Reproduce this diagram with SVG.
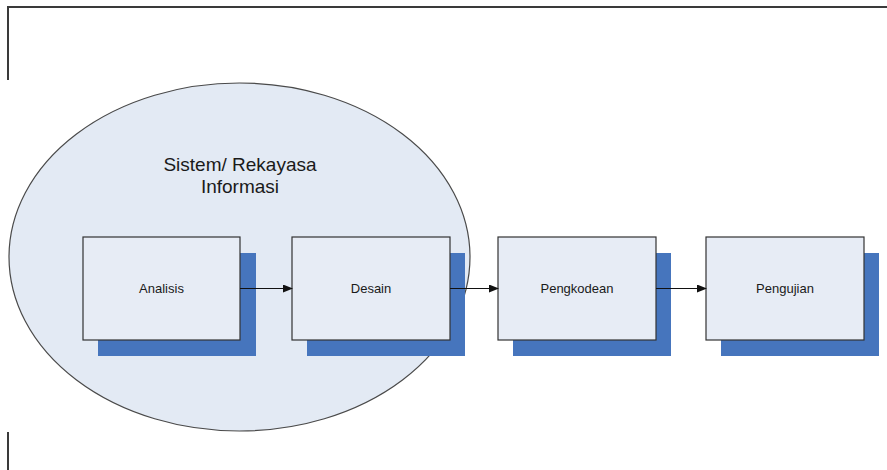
<svg xmlns="http://www.w3.org/2000/svg" width="887" height="470" viewBox="0 0 887 470">
  <defs>
    <marker id="arrow" markerWidth="10" markerHeight="8" refX="9" refY="4" orient="auto" markerUnits="userSpaceOnUse">
      <path d="M0,0 L10,4 L0,8 Z" fill="#111"/>
    </marker>
    <style>
      .frame { stroke: #3a3a3a; stroke-width: 2; fill: none; }
      .shadow { fill: #4675bd; }
      .box { fill: #e7ecf5; stroke: #333; stroke-width: 1.2; }
      .label { font-family: "Liberation Sans", Arial, sans-serif; font-size: 13px; fill: #1a1a1a; text-anchor: middle; }
      .title { font-family: "Liberation Sans", Arial, sans-serif; font-size: 19px; fill: #1a1a1a; text-anchor: middle; }
      .conn { stroke: #111; stroke-width: 1.2; fill: none; }
    </style>
  </defs>
  <rect width="887" height="470" fill="#ffffff"/>
  <g id="frame">
    <line class="frame" x1="7" y1="7" x2="887" y2="7"/>
    <line class="frame" x1="8" y1="6" x2="8" y2="80"/>
    <line class="frame" x1="8" y1="432" x2="8" y2="470"/>
  </g>
  <g id="sistem">
    <ellipse cx="239.5" cy="257" rx="230.5" ry="174" fill="#e3eaf4" stroke="#4a4a4a" stroke-width="1.2"/>
    <text class="title" x="240" y="171">Sistem/ Rekayasa</text>
    <text class="title" x="240" y="193">Informasi</text>
  </g>
  <g id="analisis">
    <rect class="shadow" x="98" y="253" width="158" height="103"/>
    <rect class="box" x="83" y="237" width="157" height="103"/>
    <text class="label" x="161.5" y="293">Analisis</text>
  </g>
  <g id="desain">
    <rect class="shadow" x="307" y="253" width="158" height="103"/>
    <rect class="box" x="292" y="237" width="158" height="103"/>
    <text class="label" x="371" y="293">Desain</text>
  </g>
  <g id="pengkodean">
    <rect class="shadow" x="513" y="253" width="158" height="103"/>
    <rect class="box" x="498" y="237" width="158" height="103"/>
    <text class="label" x="577" y="293">Pengkodean</text>
  </g>
  <g id="pengujian">
    <rect class="shadow" x="721" y="253" width="158" height="103"/>
    <rect class="box" x="706" y="237" width="158" height="103"/>
    <text class="label" x="785" y="293">Pengujian</text>
  </g>
  <g id="connectors">
    <line class="conn" x1="240" y1="288.5" x2="292" y2="288.5" marker-end="url(#arrow)"/>
    <line class="conn" x1="450" y1="288.5" x2="498" y2="288.5" marker-end="url(#arrow)"/>
    <line class="conn" x1="656" y1="288.5" x2="706" y2="288.5" marker-end="url(#arrow)"/>
  </g>
</svg>
